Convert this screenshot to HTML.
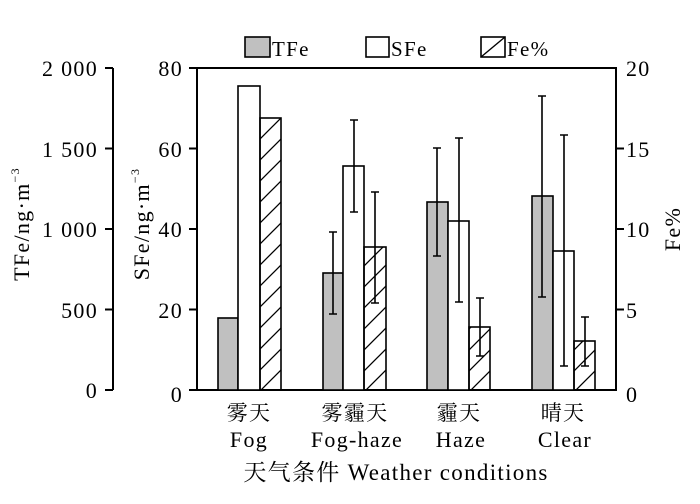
<!DOCTYPE html>
<html><head><meta charset="utf-8"><style>
body{margin:0;background:#fff;}
svg text{font-family:"Liberation Serif","Noto Serif CJK SC",serif;fill:#000;letter-spacing:1.3px;}
</style></head><body>
<svg width="700" height="499" viewBox="0 0 700 499" xmlns="http://www.w3.org/2000/svg">
<defs>
<pattern id="h" patternUnits="userSpaceOnUse" width="21" height="21">
<path d="M-2,23 L23,-2 M-2,2 L2,-2 M19,23 L23,19" stroke="#000" stroke-width="1.3"/>
</pattern>
</defs>
<g stroke="#000" stroke-width="2" fill="none">
<line x1="113" y1="68" x2="113" y2="390"/>
<line x1="105" y1="68" x2="113" y2="68"/>
<line x1="105" y1="148.5" x2="113" y2="148.5"/>
<line x1="105" y1="229" x2="113" y2="229"/>
<line x1="105" y1="309.5" x2="113" y2="309.5"/>
<line x1="105" y1="390" x2="113" y2="390"/>
<rect x="197" y="68" width="419" height="322"/>
<line x1="189" y1="68" x2="197" y2="68"/>
<line x1="189" y1="148.5" x2="197" y2="148.5"/>
<line x1="189" y1="229" x2="197" y2="229"/>
<line x1="189" y1="309.5" x2="197" y2="309.5"/>
<line x1="189" y1="390" x2="197" y2="390"/>
<line x1="616" y1="148.5" x2="624" y2="148.5"/>
<line x1="616" y1="229" x2="624" y2="229"/>
<line x1="616" y1="309.5" x2="624" y2="309.5"/>
</g>
<g stroke="#000" stroke-width="1.6">
<rect x="218" y="318" width="20" height="72" fill="#c0c0c0"/>
<rect x="238" y="86" width="22" height="304" fill="#fff"/>
<rect x="260" y="118" width="21" height="272" fill="url(#h)"/>
<rect x="323" y="273" width="20" height="117" fill="#c0c0c0"/>
<rect x="343" y="166" width="21" height="224" fill="#fff"/>
<rect x="364" y="247" width="22" height="143" fill="url(#h)"/>
<rect x="427" y="202" width="21" height="188" fill="#c0c0c0"/>
<rect x="448" y="221" width="21" height="169" fill="#fff"/>
<rect x="469" y="327" width="21" height="63" fill="url(#h)"/>
<rect x="532" y="196" width="21" height="194" fill="#c0c0c0"/>
<rect x="553" y="251" width="21" height="139" fill="#fff"/>
<rect x="574" y="341" width="21" height="49" fill="url(#h)"/>
</g>
<g stroke="#000" stroke-width="1.6" fill="none">
<path d="M333,232V314M329,232H337M329,314H337"/>
<path d="M354,120V212M350,120H358M350,212H358"/>
<path d="M375,192V303M371,192H379M371,303H379"/>
<path d="M437,148V256M433,148H441M433,256H441"/>
<path d="M459,138V302M455,138H463M455,302H463"/>
<path d="M480,298V356M476,298H484M476,356H484"/>
<path d="M542,96V297M538,96H546M538,297H546"/>
<path d="M564,135V366M560,135H568M560,366H568"/>
<path d="M585,317V366M581,317H589M581,366H589"/>
</g>
<rect x="245" y="37" width="25" height="20" fill="#c0c0c0" stroke="#000" stroke-width="1.6"/>
<text x="272" y="56" font-size="21">TFe</text>
<rect x="366" y="37" width="23" height="20" fill="#fff" stroke="#000" stroke-width="1.6"/>
<text x="391" y="56" font-size="21">SFe</text>
<rect x="481" y="37" width="24" height="20" fill="#fff" stroke="#000" stroke-width="1.6"/>
<path d="M481,57L505,37" stroke="#000" stroke-width="1.4"/>
<text x="507" y="56" font-size="21">Fe%</text>
<g font-size="22" text-anchor="end">
<text x="98" y="76">2 000</text>
<text x="98" y="157">1 500</text>
<text x="98" y="237">1 000</text>
<text x="98" y="318">500</text>
<text x="98" y="398">0</text>
<text x="183" y="76">80</text>
<text x="183" y="157">60</text>
<text x="183" y="237">40</text>
<text x="183" y="318">20</text>
<text x="183" y="402">0</text>
</g>
<g font-size="22">
<text x="626" y="76">20</text>
<text x="626" y="157">15</text>
<text x="626" y="237">10</text>
<text x="626" y="318">5</text>
<text x="626" y="402">0</text>
</g>
<text transform="translate(29,224) rotate(-90)" font-size="22" text-anchor="middle">TFe/ng·m<tspan font-size="12" dy="-10">−3</tspan></text>
<text transform="translate(149,224) rotate(-90)" font-size="22" text-anchor="middle">SFe/ng·m<tspan font-size="12" dy="-10">−3</tspan></text>
<text transform="translate(680,229) rotate(-90)" font-size="22" text-anchor="middle">Fe%</text>
<g font-size="21" text-anchor="middle">
<text x="249" y="420">雾天</text>
<text x="249" y="447" font-size="22">Fog</text>
<text x="355" y="420">雾霾天</text>
<text x="357" y="447" font-size="22">Fog-haze</text>
<text x="459" y="420">霾天</text>
<text x="461" y="447" font-size="22">Haze</text>
<text x="563" y="420">晴天</text>
<text x="565" y="447" font-size="22">Clear</text>
<text x="396" y="480" font-size="23">天气条件 Weather conditions</text>
</g>
</svg>
</body></html>
